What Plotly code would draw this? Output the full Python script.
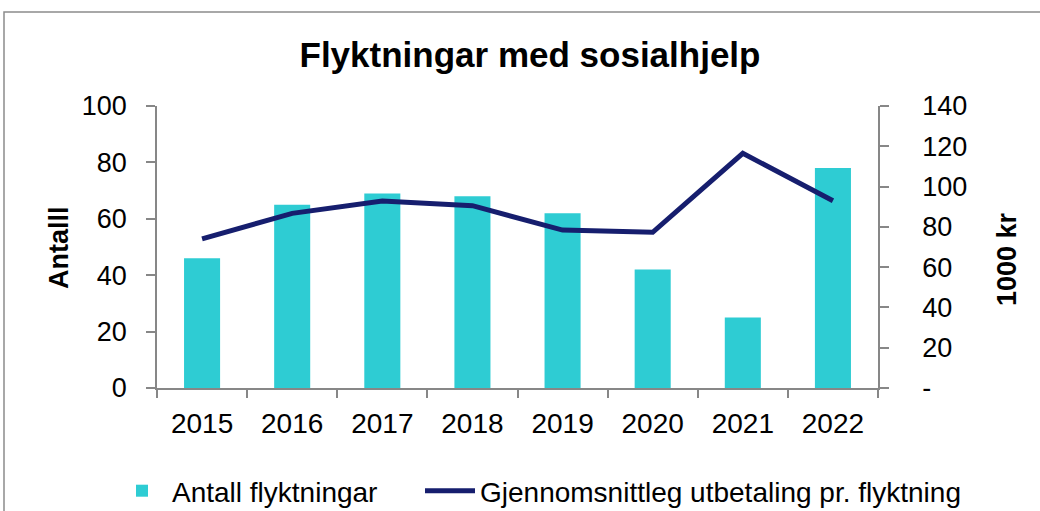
import plotly.graph_objects as go

# Data
years = ["2015", "2016", "2017", "2018", "2019", "2020", "2021", "2022"]
antall_flyktningar = [46, 65, 69, 68, 62, 42, 25, 78]
snitt_utbetaling = [74.0, 86.7, 92.8, 90.5, 78.4, 77.3, 116.5, 93.0]
right_tickvals = [0, 20, 40, 60, 80, 100, 120, 140]
right_ticktext = ["-", "20", "40", "60", "80", "100", "120", "140"]

W, H = 1040, 511
ML, MR, MT, MB = 157, 162, 106, 123
PW, PH = W - ML - MR, H - MT - MB

BAR_COLOR = "#2ECCD3"
LINE_COLOR = "#161E6E"
AXIS_COLOR = "#878787"
FONT = "Liberation Sans, Arial, sans-serif"


def px_to_paper_x(px):
    return (px - ML) / PW


def px_to_paper_y(py):
    return (H - MB - py) / PH


fig = go.Figure()

fig.add_trace(go.Bar(
    x=years,
    y=antall_flyktningar,
    name="Antall flyktningar",
    marker=dict(color=BAR_COLOR, line=dict(width=0)),
    width=0.4,
    yaxis="y",
    legend="legend",
))

fig.add_trace(go.Scatter(
    x=years,
    y=snitt_utbetaling,
    name="Gjennomsnittleg utbetaling pr. flyktning",
    mode="lines",
    line=dict(color=LINE_COLOR, width=5),
    yaxis="y2",
    legend="legend2",
))

legend_common = dict(
    orientation="h",
    xanchor="left",
    yanchor="middle",
    font=dict(family=FONT, size=28, color="black"),
    itemwidth=50,
    bgcolor="rgba(0,0,0,0)",
)

fig.update_layout(
    width=W,
    height=H,
    margin=dict(l=ML, r=MR, t=MT, b=MB, autoexpand=False),
    paper_bgcolor="white",
    plot_bgcolor="white",
    font=dict(family=FONT, color="black", size=27),
    title=dict(
        text="Flyktningar med sosialhjelp",
        font=dict(family=FONT, size=35, weight="bold", color="black"),
        xref="container", x=530 / W, xanchor="center",
        yref="container", y=1 - 55 / H, yanchor="middle",
    ),
    bargap=0.6,
    showlegend=True,
    legend=dict(legend_common, x=px_to_paper_x(112), y=px_to_paper_y(491)),
    legend2=dict(legend_common, x=px_to_paper_x(420), y=px_to_paper_y(491)),
    xaxis=dict(
        type="category",
        showline=True, linecolor=AXIS_COLOR, linewidth=1.5,
        ticks="outside", ticklen=8, tickcolor=AXIS_COLOR, tickwidth=1.5,
        tickson="boundaries",
        ticklabelstandoff=10,
        showgrid=False, zeroline=False,
        tickfont=dict(size=28),
    ),
    yaxis=dict(
        range=[0, 100], dtick=20, tick0=0,
        showline=True, linecolor=AXIS_COLOR, linewidth=1.5,
        ticks="outside", ticklen=9, tickcolor=AXIS_COLOR, tickwidth=1.5,
        ticklabelstandoff=14,
        showgrid=False, zeroline=False,
        tickfont=dict(size=27),
    ),
    yaxis2=dict(
        range=[0, 140],
        tickmode="array", tickvals=right_tickvals, ticktext=right_ticktext,
        overlaying="y", side="right",
        showline=True, linecolor=AXIS_COLOR, linewidth=1.5,
        ticks="outside", ticklen=9, tickcolor=AXIS_COLOR, tickwidth=1.5,
        ticklabelstandoff=28,
        showgrid=False, zeroline=False,
        tickfont=dict(size=27),
    ),
)

# Axis titles
fig.add_annotation(
    text="<b>Antalll</b>", textangle=-90,
    xref="paper", yref="paper",
    x=px_to_paper_x(59), y=px_to_paper_y(248),
    xanchor="center", yanchor="middle", showarrow=False,
    font=dict(family=FONT, size=27, color="black"),
)
fig.add_annotation(
    text="<b>1000 kr</b>", textangle=-90,
    xref="paper", yref="paper",
    x=px_to_paper_x(1007), y=px_to_paper_y(259),
    xanchor="center", yanchor="middle", showarrow=False,
    font=dict(family=FONT, size=27, color="black"),
)

# Chart frame
fig.add_shape(
    type="rect", xref="paper", yref="paper",
    x0=px_to_paper_x(4), x1=px_to_paper_x(1050),
    y0=px_to_paper_y(530), y1=px_to_paper_y(12),
    line=dict(color="#8C8C8C", width=1.5),
    fillcolor="rgba(0,0,0,0)", layer="below",
)

fig.write_html("out.html")
